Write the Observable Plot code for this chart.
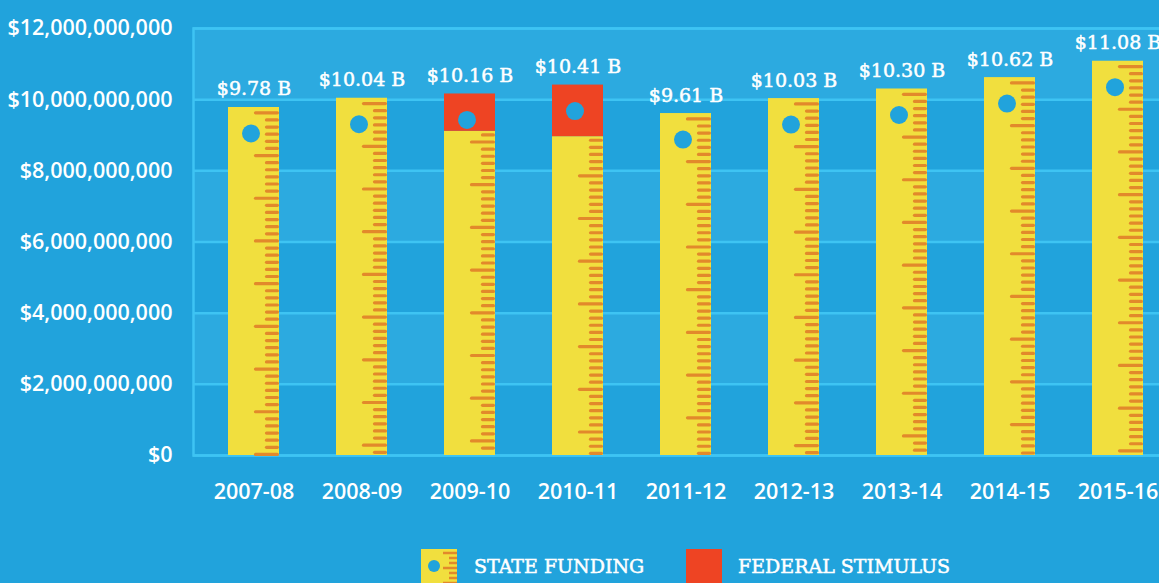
<!DOCTYPE html>
<html>
<head>
<meta charset="utf-8">
<script src="https://cdn.jsdelivr.net/npm/d3@7"></script>
<script src="https://cdn.jsdelivr.net/npm/@observablehq/plot@0.6"></script>
<style>
  html, body { margin: 0; padding: 0; background: #21a3dc; overflow: hidden; width: 1159px; height: 583px; }
  #chart { position: absolute; left: 0; top: 0; width: 1190px; }
  #chart svg { max-width: none !important; }
  .legend { position: absolute; top: 549px; left: 0; height: 40px; font-family: "DejaVu Serif", serif; font-size: 19px; color: #fff; -webkit-text-stroke: 0.5px #fff; }
  .legend .item { position: absolute; top: 0; display: block; white-space: nowrap; }
  .legend .lab { position: absolute; top: 6px; }
</style>
</head>
<body>
<div id="chart"></div>
<div class="legend" id="legend"></div>
<script>
const years = ["2007-08", "2008-09", "2009-10", "2010-11", "2011-12", "2012-13", "2013-14", "2014-15", "2015-16"];
const stateFunding = [9.78, 10.04, 9.11, 8.96, 9.61, 10.03, 10.30, 10.62, 11.08];   // billions
const federalStimulus = [0, 0, 1.05, 1.45, 0, 0, 0, 0, 0];                            // billions
const totals = [9.78, 10.04, 10.16, 10.41, 9.61, 10.03, 10.30, 10.62, 11.08];          // billions
const totalLabels = ["$9.78 B", "$10.04 B", "$10.16 B", "$10.41 B", "$9.61 B", "$10.03 B", "$10.30 B", "$10.62 B", "$11.08 B"];
const yTicks = [0, 2e9, 4e9, 6e9, 8e9, 10e9, 12e9];
const seriesNames = ["STATE FUNDING", "FEDERAL STIMULUS"];

const BG = "#21a3dc", BAND = "#2caae0", GRID = "#3ec4f3";
const YELLOW = "#f1df3e", ORANGE = "#e2892b", RED = "#ee4423";

const B = 1e9;
const bars = [];
years.forEach((y, i) => {
  bars.push({year: y, type: seriesNames[0], value: stateFunding[i] * B});
  bars.push({year: y, type: seriesNames[1], value: federalStimulus[i] * B});
});
const tops = years.map((y, i) => ({year: y, total: totals[i] * B, label: totalLabels[i]}));

// ruler graduations: every 0.2 B measured down from the top of each ruler, visible on the yellow part only
const rulerTicks = [];
years.forEach((y, i) => {
  for (let k = 0; ; k++) {
    const v = totals[i] - 0.15 - k * 0.2;
    if (v <= 0.01) break;
    if (v < stateFunding[i] - 0.08) rulerTicks.push({year: y, v: v * B, long: k % 6 === 0});
  }
});

// alternating background bands
const bands = [[2e9, 4e9], [6e9, 8e9], [10e9, 12e9]].map(([a, b]) => ({y1: a, y2: b}));

const plot = Plot.plot({
  width: 1190,
  height: 520,
  marginLeft: 193,
  marginRight: 12,
  marginTop: 28,
  marginBottom: 65,
  style: {background: BG, color: "#fff", fontFamily: "'Open Sans', sans-serif", fontSize: "21.5px", fontWeight: 600, maxWidth: "none"},
  x: {domain: years, paddingInner: 0.53, paddingOuter: 0.29, label: null},
  y: {domain: [0, 12e9], label: null},
  color: {domain: seriesNames, range: [YELLOW, RED]},
  marks: [
    Plot.rect(bands, {y1: "y1", y2: "y2", fill: BAND}),
    Plot.ruleY(yTicks, {stroke: GRID, strokeWidth: 2.5}),
    Plot.frame({stroke: GRID, strokeWidth: 2.5}),
    Plot.axisY({ticks: yTicks, tickFormat: d3.format("$,"), tickSize: 0, tickPadding: 21, fontSize: 21.5, fill: "#fff"}),
    Plot.axisX({tickSize: 0, tickPadding: 28, fontSize: 21.5, fill: "#fff"}),
    Plot.barY(bars, {x: "year", y: "value", fill: "type"}),
    Plot.tickY(rulerTicks.filter(d => d.long), {x: "year", y: "v", stroke: ORANGE, strokeWidth: 3.2, strokeLinecap: "round", insetLeft: 27.5, insetRight: 1.6}),
    Plot.tickY(rulerTicks.filter(d => !d.long), {x: "year", y: "v", stroke: ORANGE, strokeWidth: 3.2, strokeLinecap: "round", insetLeft: 38.5, insetRight: 1.6}),
    Plot.dot(tops, {x: "year", y: "total", r: 9, dx: -3, dy: 26, fill: BG}),
    Plot.text(tops, {x: "year", y: "total", text: "label", lineAnchor: "bottom", dy: -12, fill: "#fff", stroke: "#fff", strokeWidth: 0.5, fontSize: 19, fontFamily: "'DejaVu Serif', serif", fontWeight: 400})
  ]
});
document.getElementById("chart").appendChild(plot);

// legend
const legend = document.getElementById("legend");
const rulerSwatch = `<svg width="36" height="40" style="position:absolute;left:0;top:0">
  <rect x="0" y="0" width="36" height="40" fill="${YELLOW}"/>
  <circle cx="13" cy="17" r="6" fill="${BG}"/>
  ${[4, 9, 14, 19, 24, 29, 34].map((y, i) => `<line x1="${i % 3 === 0 ? 22 : 28}" x2="36" y1="${y}" y2="${y}" stroke="${ORANGE}" stroke-width="2.5"/>`).join("")}
</svg>`;
legend.innerHTML = `
  <div class="item" style="left:421px">${rulerSwatch}<span class="lab" style="left:53px">${seriesNames[0]}</span></div>
  <div class="item" style="left:686px"><div style="position:absolute;left:0;top:0;width:36px;height:40px;background:${RED}"></div><span class="lab" style="left:52px">${seriesNames[1]}</span></div>
`;
</script>
</body>
</html>
